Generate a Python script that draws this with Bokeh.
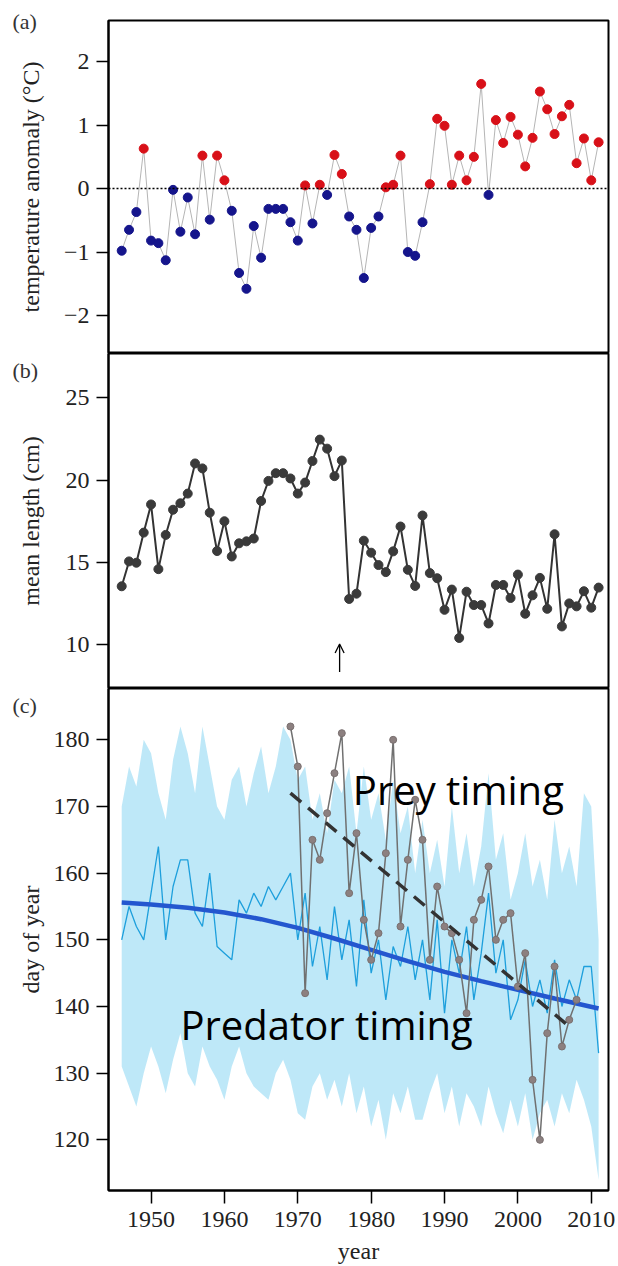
from bokeh.plotting import figure
from bokeh.models import Range1d, FixedTicker, Arrow, OpenHead, Label, Span, GridBox
from bokeh.layouts import column
from bokeh.embed import file_html
from bokeh.resources import INLINE

# ---------------- data ----------------
years = list(range(1946, 2012))

# (a) temperature anomaly (deg C)
temp_anomaly = [-0.98, -0.65, -0.37, 0.63, -0.82, -0.86, -1.13, -0.02, -0.68, -0.14,
                -0.72, 0.52, -0.49, 0.52, 0.13, -0.35, -1.33, -1.58, -0.59, -1.09,
                -0.32, -0.32, -0.32, -0.53, -0.82, 0.05, -0.55, 0.06, -0.10, 0.53,
                0.23, -0.44, -0.65, -1.41, -0.62, -0.44, 0.02, 0.06, 0.52, -1.00,
                -1.06, -0.53, 0.07, 1.10, 0.99, 0.06, 0.52, 0.13, 0.50, 1.65,
                -0.10, 1.08, 0.72, 1.13, 0.85, 0.35, 0.80, 1.53, 1.25, 0.86,
                1.14, 1.32, 0.40, 0.79, 0.13, 0.73]

# (b) mean length (cm)
mean_length = [13.56, 15.07, 14.99, 16.82, 18.53, 14.60, 16.68, 18.21, 18.60, 19.19,
               21.02, 20.72, 18.03, 15.70, 17.51, 15.37, 16.17, 16.29, 16.46, 18.74,
               19.96, 20.43, 20.43, 20.11, 19.19, 19.86, 21.17, 22.47, 21.92, 20.25,
               21.20, 12.79, 13.11, 16.33, 15.60, 14.85, 14.42, 15.68, 17.19, 14.56,
               13.58, 17.86, 14.36, 14.05, 12.13, 13.36, 10.42, 13.23, 12.42, 12.42,
               11.30, 13.64, 13.64, 12.85, 14.27, 11.89, 13.01, 14.07, 12.19, 16.72,
               11.12, 12.52, 12.34, 13.26, 12.26, 13.48]
shift_year = 1975.7

# (c) predator timing (day of year): annual estimate and its band
predator = [150, 155, 152, 150, 157, 164, 150, 158, 162, 162,
            154, 152, 160, 149, 148, 147, 156, 154, 157, 155,
            158, 156, 158, 160, 150, 157, 146, 152, 144, 155,
            147, 153, 143, 156, 145, 150, 141, 149, 146, 152,
            144, 150, 141, 153, 139, 150, 145, 152, 141, 148,
            157, 145, 150, 138, 141, 147, 140, 144, 139, 147,
            140, 144, 141, 146, 146, 133]
predator_upper = [170, 176, 173, 180, 178, 172, 168, 177, 182, 178,
                  172, 182, 176, 170, 168, 174, 176, 170, 175, 179,
                  172, 176, 182, 180, 174, 176, 168, 172, 166, 174,
                  172, 176, 166, 176, 168, 172, 165, 174, 166, 170,
                  160, 168, 160, 165, 158, 170, 160, 166, 158, 164,
                  175, 162, 166, 156, 160, 166, 158, 162, 156, 168,
                  160, 164, 158, 172, 170, 150]
predator_lower = [131, 128, 125, 130, 134, 131, 127, 132, 136, 130,
                  128, 134, 131, 129, 126, 131, 134, 130, 128, 127,
                  126, 130, 132, 129, 124, 123, 128, 130, 126, 129,
                  125, 130, 124, 128, 122, 126, 120, 127, 124, 128,
                  123, 123, 127, 130, 124, 128, 122, 127, 125, 122,
                  128, 124, 121, 126, 122, 127, 120, 124, 126, 122,
                  127, 124, 129, 126, 122, 114]
predator_trend_years = [1946, 1950, 1955, 1960, 1965, 1970, 1975, 1980, 1985, 1990, 1995, 2000, 2005, 2011]
predator_trend = [155.6, 155.3, 154.8, 154.1, 153.1, 151.8, 150.2, 148.5, 146.8, 145.2, 143.8, 142.5, 141.2, 139.7]

# (c) prey timing (day of year)
prey_years = list(range(1969, 2009))
prey = [182, 176, 142, 165, 162, 169, 175, 181, 157, 166,
        153, 147, 151, 163, 180, 152, 162, 171, 165, 147,
        158, 152, 151, 147, 139, 153, 156, 161, 150, 153,
        154, 143, 148, 129, 120, 136, 146, 134, 138, 141]
prey_trend_years = [1969, 2007]
prey_trend = [172, 137]

x_ticks = [1950, 1960, 1970, 1980, 1990, 2000, 2010]
a_ticks = [-2, -1, 0, 1, 2]
b_ticks = [10, 15, 20, 25]
c_ticks = [120, 130, 140, 150, 160, 170, 180]
panel_letters = ["(a)", "(b)", "(c)"]

# ---------------- styling helpers ----------------
SERIF = "Liberation Serif"
W, H = 618, 1266
xr = Range1d(1944.2, 2012.35)


def base(height, yr, top=0, bottom=0, xaxis=False):
    p = figure(width=W, height=height, x_range=xr, y_range=yr,
               output_backend="svg", toolbar_location=None,
               x_axis_location="below" if xaxis else None,
               min_border_left=108, min_border_right=10,
               min_border_top=top, min_border_bottom=bottom)
    p.xgrid.grid_line_color = None
    p.ygrid.grid_line_color = None
    p.outline_line_color = "black"
    p.outline_line_width = 2
    p.outline_line_alpha = 1
    p.background_fill_color = "white"
    p.border_fill_color = "white"
    return p


def style_axis(ax, ticks, label, standoff, overrides=None):
    ax.ticker = FixedTicker(ticks=ticks)
    if overrides:
        ax.major_label_overrides = overrides
    ax.axis_label = label
    ax.axis_label_text_font = SERIF
    ax.axis_label_text_font_size = "24px"
    ax.axis_label_text_font_style = "normal"
    ax.axis_label_text_color = "#222222"
    ax.axis_label_standoff = standoff
    ax.major_label_text_font = SERIF
    ax.major_label_text_font_size = "24px"
    ax.major_label_text_color = "#222222"
    ax.major_label_standoff = 7
    ax.major_tick_out = 12
    ax.major_tick_in = 0
    ax.minor_tick_out = 0
    ax.minor_tick_in = 0
    ax.major_tick_line_width = 1.5
    ax.axis_line_width = 2


# ---------------- (a) ----------------
pa = base(353, Range1d(-2.6, 2.65), top=20)
style_axis(pa.yaxis[0], a_ticks, "temperature anomaly (°C)", 17,
           {-2: "\u22122", -1: "\u22121"})
pa.add_layout(Span(location=0, dimension="width", line_color="black",
                   line_width=1.5, line_dash="2 2"))
pa.line(years, temp_anomaly, line_color="#b5b5b5", line_width=1)
temp_colors = ["#d81018" if v > 0 else "#15158c" for v in temp_anomaly]
pa.scatter(years, temp_anomaly, size=9, marker="circle", fill_color=temp_colors,
           line_color=temp_colors)

# ---------------- (b) ----------------
pb = base(335, Range1d(7.35, 27.7))
style_axis(pb.yaxis[0], b_ticks, "mean length (cm)", 19)
pb.line(years, mean_length, line_color="#333333", line_width=2)
pb.scatter(years, mean_length, size=9, marker="circle", fill_color="#3a3a3a",
           line_color="#3a3a3a")
pb.add_layout(Arrow(end=OpenHead(size=9, line_width=1.3, line_color="black"),
                    x_start=shift_year, y_start=8.35, x_end=shift_year, y_end=10.05,
                    line_width=1.3, line_color="black"))

# ---------------- (c) ----------------
pc = base(578, Range1d(112.4, 187.7), bottom=76, xaxis=True)
style_axis(pc.yaxis[0], c_ticks, "day of year", 7)
style_axis(pc.xaxis[0], x_ticks, "year", 8)
pc.xaxis[0].major_tick_out = 13
pc.xaxis[0].major_label_standoff = 8

pc.varea(x=years, y1=predator_lower, y2=predator_upper, fill_color="#aee2f6",
         fill_alpha=0.8)
pc.line(years, predator, line_color="#1d9fdc", line_width=1.3)
pc.line(predator_trend_years, predator_trend, line_color="#2457cf", line_width=4.5)
pc.line(prey_years, prey, line_color="#707070", line_width=1.5)
pc.scatter(prey_years, prey, size=7, marker="circle", fill_color="#8c8080",
           line_color="#7a7070")
pc.line(prey_trend_years, prey_trend, line_color="#333333", line_width=3.5,
        line_dash="14 9")

pc.add_layout(Label(x=1977.5, y=172.6, text="Prey timing", text_font="Open Sans",
                    text_font_size="40px", text_color="black", text_baseline="alphabetic"))
pc.add_layout(Label(x=1954.0, y=137.3, text="Predator timing", text_font="Open Sans",
                    text_font_size="40px", text_color="black", text_baseline="alphabetic"))

# ---------------- transparent overlay carrying the panel letters ----------------
ov = figure(width=W, height=H, x_range=Range1d(0, W), y_range=Range1d(H, 0),
            output_backend="svg", toolbar_location=None,
            x_axis_location=None, y_axis_location=None, min_border=0)
ov.xgrid.grid_line_color = None
ov.ygrid.grid_line_color = None
ov.outline_line_color = None
ov.background_fill_color = None
ov.border_fill_color = None
for letter, ypix in zip(panel_letters, [21, 370, 705]):
    ov.add_layout(Label(x=12, y=ypix, text=letter, text_font=SERIF,
                        text_font_size="22px", text_color="#333333",
                        text_align="left", text_baseline="middle"))

stack = column(pa, pb, pc, spacing=0)
layout = GridBox(children=[(stack, 0, 0), (ov, 0, 0)], spacing=0)
open("out.html", "w").write(file_html(layout, INLINE))
